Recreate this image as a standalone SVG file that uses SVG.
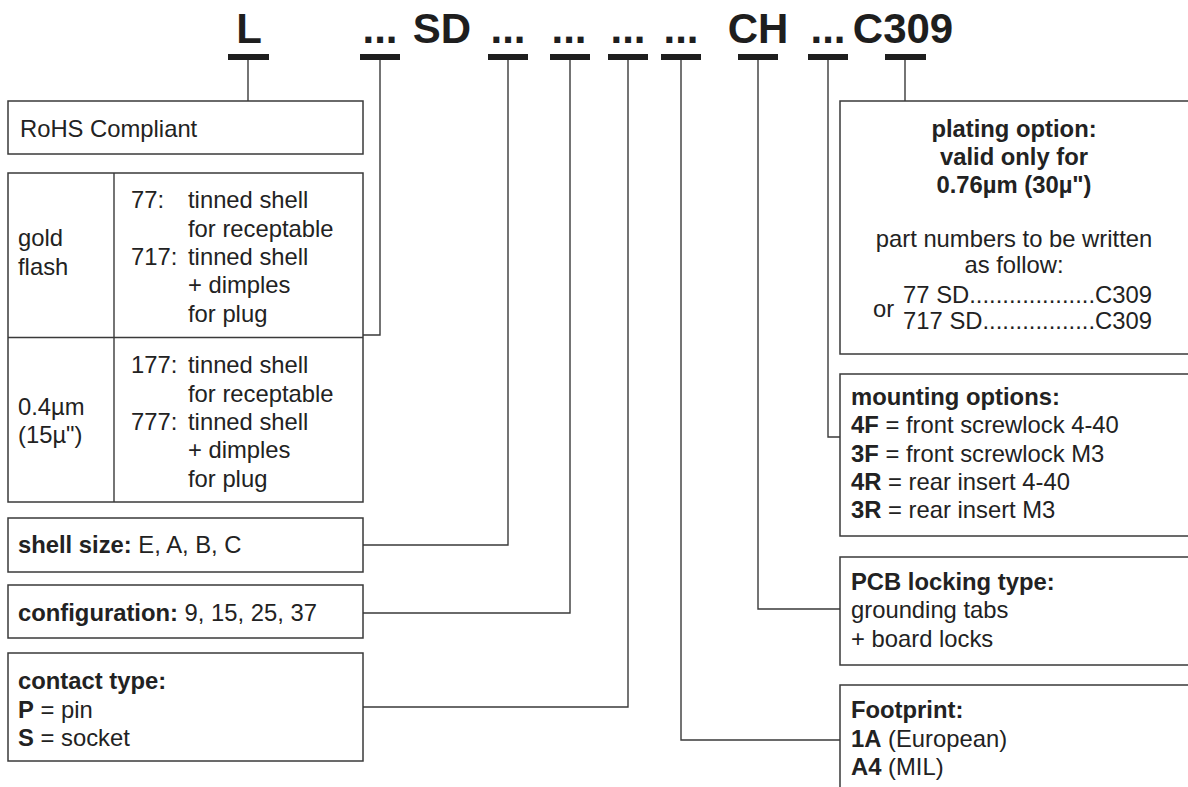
<svg xmlns="http://www.w3.org/2000/svg" width="1188" height="787" viewBox="0 0 1188 787">
<style>
  .hdr { font-family: "Liberation Sans", Arial, sans-serif; font-weight: bold; font-size: 42px; fill: #1e1e1e; text-anchor: middle; }
  .bar { fill: #1e1e1e; }
  .box { fill: #ffffff; stroke: #3a3a3a; stroke-width: 1.5; }
  .conn { fill: none; stroke: #3a3a3a; stroke-width: 1.4; }
  .t { font-family: "Liberation Sans", Arial, sans-serif; font-size: 23.8px; fill: #222; }
  .b { font-weight: bold; }
  .c { text-anchor: middle; }
</style>
<rect width="1188" height="787" fill="#ffffff"/>

<g id="connectors">
  <path class="conn" d="M248,60 V101"/>
  <path class="conn" d="M380,60 V335 H363"/>
  <path class="conn" d="M508,60 V545 H363"/>
  <path class="conn" d="M570,60 V613 H363"/>
  <path class="conn" d="M628,60 V707 H363"/>
  <path class="conn" d="M681,60 V740 H840"/>
  <path class="conn" d="M758,60 V609 H840"/>
  <path class="conn" d="M828,60 V437 H840"/>
  <path class="conn" d="M905,60 V101"/>
</g>

<g id="part-code">
  <text class="hdr" x="249" y="43">L</text>
  <text class="hdr" x="380" y="43">...</text>
  <text class="hdr" x="442" y="43">SD</text>
  <text class="hdr" x="508" y="43">...</text>
  <text class="hdr" x="569" y="43">...</text>
  <text class="hdr" x="628" y="43">...</text>
  <text class="hdr" x="681" y="43">...</text>
  <text class="hdr" x="758" y="43">CH</text>
  <text class="hdr" x="828" y="43">...</text>
  <text class="hdr" x="903" y="43">C309</text>
  <rect class="bar" x="228" y="54" width="41" height="6"/>
  <rect class="bar" x="360" y="54" width="40" height="6"/>
  <rect class="bar" x="488" y="54" width="40" height="6"/>
  <rect class="bar" x="550" y="54" width="40" height="6"/>
  <rect class="bar" x="608" y="54" width="40" height="6"/>
  <rect class="bar" x="661" y="54" width="40" height="6"/>
  <rect class="bar" x="738" y="54" width="40" height="6"/>
  <rect class="bar" x="808" y="54" width="40" height="6"/>
  <rect class="bar" x="885" y="54" width="41" height="6"/>
</g>

<g id="rohs">
  <rect class="box" x="8" y="101" width="355" height="53"/>
  <text class="t" x="20" y="137">RoHS Compliant</text>
</g>

<g id="plating">
  <rect class="box" x="8" y="173" width="355" height="329"/>
  <line class="conn" x1="114" y1="173" x2="114" y2="502"/>
  <line class="conn" x1="8" y1="337.5" x2="363" y2="337.5"/>
  <text class="t" x="18" y="246">gold</text>
  <text class="t" x="18" y="275">flash</text>
  <text class="t" x="131" y="208">77:</text>
  <text class="t" x="188" y="208">tinned shell</text>
  <text class="t" x="188" y="237">for receptable</text>
  <text class="t" x="131" y="265">717:</text>
  <text class="t" x="188" y="265">tinned shell</text>
  <text class="t" x="188" y="293">+ dimples</text>
  <text class="t" x="188" y="322">for plug</text>
  <text class="t" x="18" y="415">0.4µm</text>
  <text class="t" x="18" y="443">(15µ")</text>
  <text class="t" x="131" y="373">177:</text>
  <text class="t" x="188" y="373">tinned shell</text>
  <text class="t" x="188" y="402">for receptable</text>
  <text class="t" x="131" y="430">777:</text>
  <text class="t" x="188" y="430">tinned shell</text>
  <text class="t" x="188" y="458">+ dimples</text>
  <text class="t" x="188" y="487">for plug</text>
</g>

<g id="shell-size">
  <rect class="box" x="8" y="518" width="355" height="54"/>
  <text class="t" x="18" y="553"><tspan class="b">shell size:</tspan> E, A, B, C</text>
</g>

<g id="configuration">
  <rect class="box" x="8" y="585" width="355" height="53"/>
  <text class="t" x="18" y="621"><tspan class="b">configuration:</tspan> 9, 15, 25, 37</text>
</g>

<g id="contact-type">
  <rect class="box" x="8" y="653" width="355" height="108"/>
  <text class="t b" x="18" y="689">contact type:</text>
  <text class="t" x="18" y="718"><tspan class="b">P</tspan> = pin</text>
  <text class="t" x="18" y="746"><tspan class="b">S</tspan> = socket</text>
</g>

<g id="plating-option">
  <rect class="box" x="840" y="101" width="360" height="253"/>
  <text class="t b c" x="1014" y="137">plating option:</text>
  <text class="t b c" x="1014" y="165">valid only for</text>
  <text class="t b c" x="1014" y="193">0.76µm (30µ")</text>
  <text class="t c" x="1014" y="247">part numbers to be written</text>
  <text class="t c" x="1014" y="273">as follow:</text>
  <text class="t" x="873" y="317">or</text>
  <text class="t" x="903" y="303" textLength="249" lengthAdjust="spacing">77 SD...................C309</text>
  <text class="t" x="903" y="329" textLength="249" lengthAdjust="spacing">717 SD.................C309</text>
</g>

<g id="mounting-options">
  <rect class="box" x="840" y="374" width="360" height="162"/>
  <text class="t b" x="851" y="405">mounting options:</text>
  <text class="t" x="851" y="433"><tspan class="b">4F</tspan> = front screwlock 4-40</text>
  <text class="t" x="851" y="462"><tspan class="b">3F</tspan> = front screwlock M3</text>
  <text class="t" x="851" y="490"><tspan class="b">4R</tspan> = rear insert 4-40</text>
  <text class="t" x="851" y="518"><tspan class="b">3R</tspan> = rear insert M3</text>
</g>

<g id="pcb-locking">
  <rect class="box" x="840" y="557" width="360" height="108"/>
  <text class="t b" x="851" y="590">PCB locking type:</text>
  <text class="t" x="851" y="618">grounding tabs</text>
  <text class="t" x="851" y="647">+ board locks</text>
</g>

<g id="footprint">
  <rect class="box" x="840" y="685" width="360" height="120"/>
  <text class="t b" x="851" y="718">Footprint:</text>
  <text class="t" x="851" y="747"><tspan class="b">1A</tspan> (European)</text>
  <text class="t" x="851" y="775"><tspan class="b">A4</tspan> (MIL)</text>
</g>
</svg>
